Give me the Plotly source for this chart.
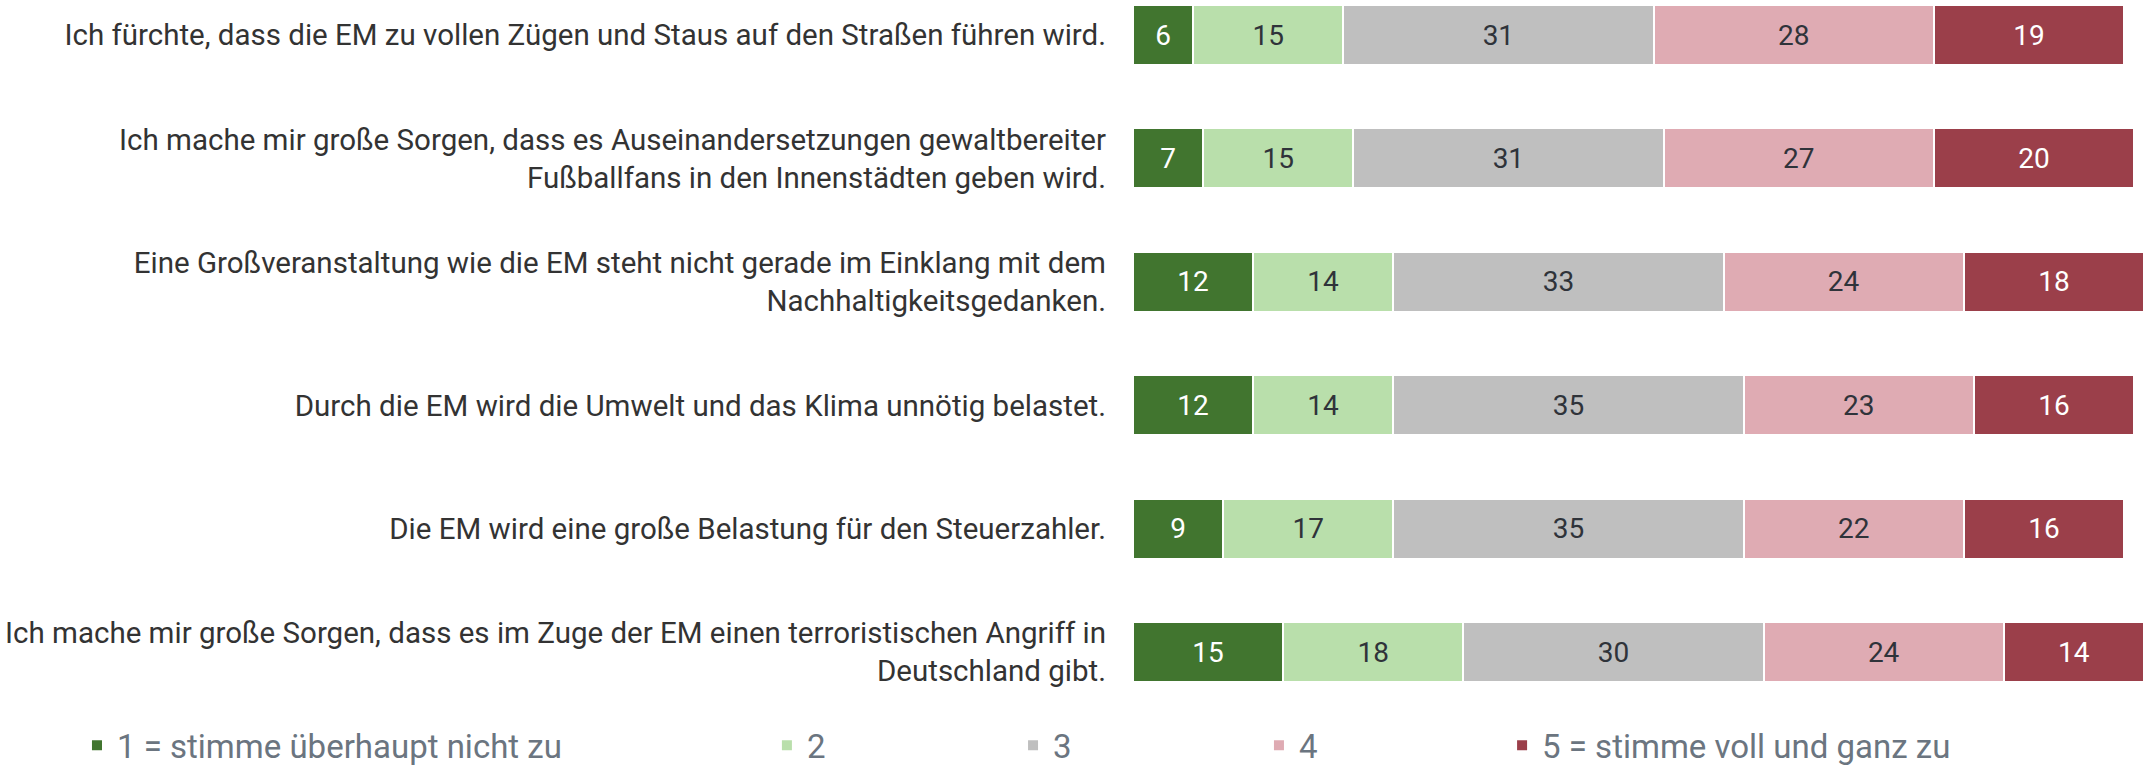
import plotly.graph_objects as go

categories = [
    "Ich fürchte, dass die EM zu vollen Zügen und Staus auf den Straßen führen wird.",
    "Ich mache mir große Sorgen, dass es Auseinandersetzungen gewaltbereiter<br>Fußballfans in den Innenstädten geben wird.",
    "Eine Großveranstaltung wie die EM steht nicht gerade im Einklang mit dem<br>Nachhaltigkeitsgedanken.",
    "Durch die EM wird die Umwelt und das Klima unnötig belastet.",
    "Die EM wird eine große Belastung für den Steuerzahler.",
    "Ich mache mir große Sorgen, dass es im Zuge der EM einen terroristischen Angriff in<br>Deutschland gibt.",
]
series_names = ["1 = stimme überhaupt nicht zu", "2", "3", "4", "5 = stimme voll und ganz zu"]
r1 = [6, 7, 12, 12, 9, 15]
r2 = [15, 15, 14, 14, 17, 18]
r3 = [31, 31, 33, 35, 35, 30]
r4 = [28, 27, 24, 23, 22, 24]
r5 = [19, 20, 18, 16, 16, 14]
series_values = [r1, r2, r3, r4, r5]

colors = ["#41752F", "#B9DFAB", "#BFBFBF", "#DFABB3", "#9B3F4A"]
text_colors = ["#FFFFFF", "#2F333A", "#2F333A", "#2F333A", "#FFFFFF"]
legend_ids = ["legend", "legend2", "legend3", "legend4", "legend5"]
legend_x = [0.0359, 0.3577, 0.4725, 0.5872, 0.7006]

FONT = "Roboto"
fig = go.Figure()
for name, vals, col, tc, lg in zip(series_names, series_values, colors, text_colors, legend_ids):
    fig.add_trace(go.Bar(
        y=categories, x=vals, name=name, orientation="h",
        marker=dict(color=col, line=dict(color="white", width=2)),
        text=[str(v) for v in vals], textposition="inside",
        insidetextanchor="middle", textangle=0,
        textfont=dict(family=FONT, size=28, color=tc),
        legend=lg, hoverinfo="x+name",
    ))

legend_layout = {}
for lg, lx in zip(legend_ids, legend_x):
    legend_layout[lg] = dict(
        orientation="h", xref="container", yref="container",
        x=lx, y=0.027, xanchor="left", yanchor="middle",
        font=dict(family=FONT, size=33, color="#6B7580"),
        bgcolor="rgba(0,0,0,0)")

fig.update_layout(
    width=2144, height=766,
    barmode="stack", bargap=0.514,
    plot_bgcolor="white", paper_bgcolor="white",
    margin=dict(l=1133, r=0, t=0, b=66, autoexpand=False),
    font=dict(family=FONT, size=29, color="#333333"),
    xaxis=dict(range=[0, 101], visible=False, fixedrange=True),
    yaxis=dict(range=[5.389, -0.284], showgrid=False, zeroline=False,
               ticks="", ticklabelstandoff=26, fixedrange=True,
               tickfont=dict(family=FONT, size=29.5, color="#333333")),
    showlegend=True,
    **legend_layout,
)

fig.write_html("out.html", config={"displayModeBar": False},
               post_script="document.body.style.margin='0';")
